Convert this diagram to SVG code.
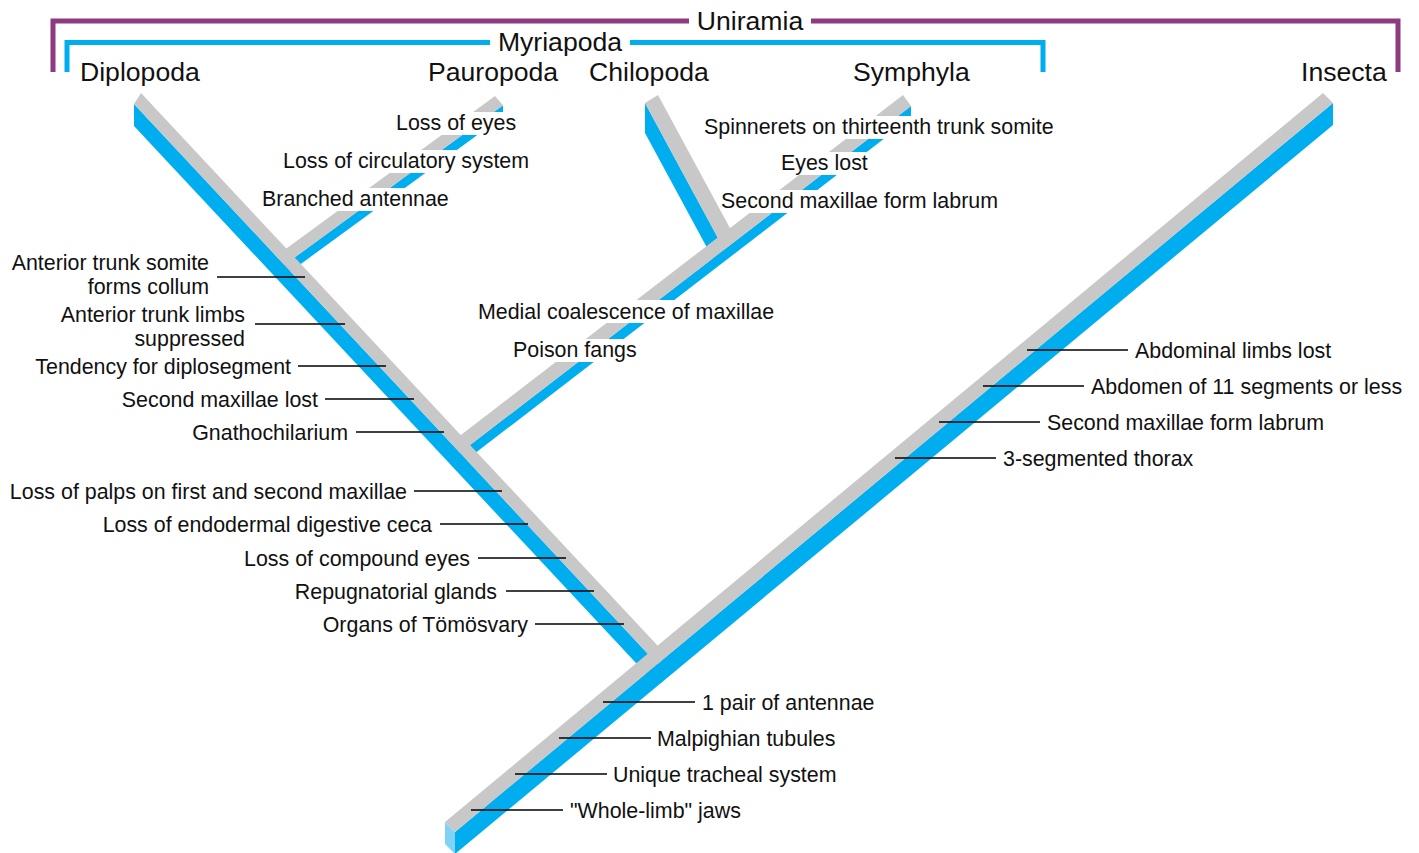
<svg xmlns="http://www.w3.org/2000/svg" width="1419" height="853" viewBox="0 0 1419 853">
  <style>
    .top{fill:#c8c8c8}
    .side{fill:#00aeef}
    .end{fill:#80d3f6}
    .tick{stroke:#000;stroke-width:1.6;fill:none}
    .knock{fill:#fff}
    text{font-family:"Liberation Sans",Arial,Helvetica,sans-serif;font-size:21.4px;fill:#111}
    .taxon{font-size:26.6px}
    .r{text-anchor:end}
    .uni{stroke:#8e3a7e;stroke-width:5;fill:none}
    .myr{stroke:#00aeef;stroke-width:5;fill:none}
  </style>

  <!-- group brackets -->
  <g id="bracket-uniramia">
    <polyline class="uni" points="53,72 53,21 689,21"/>
    <polyline class="uni" points="811,21 1398,21 1398,72"/>
    <text class="taxon" x="750" y="29.5" text-anchor="middle">Uniramia</text>
  </g>
  <g id="bracket-myriapoda">
    <polyline class="myr" points="67,72 67,42.5 490,42.5"/>
    <polyline class="myr" points="630,42.5 1043,42.5 1043,72"/>
    <text class="taxon" x="560" y="51" text-anchor="middle">Myriapoda</text>
  </g>

  <!-- tree: side faces first, then top faces -->
  <g id="connectors">
    <g id="sides">
      <polygon class="side" points="455,832 1333,103 1333,125 455,854"/>
      <polygon class="side" points="134,104 657.4,663.9 645.8,673.5 134,126"/>
      <polygon class="side" points="503,105.2 503,116.2 290.5,271.5 284.4,264.9"/>
      <polygon class="side" points="911,105.9 911,117.9 466.5,459.8 460,452.8"/>
      <polygon class="side" points="645,103 724.2,249.5 712.8,258.4 645,133"/>
      <polygon class="end" points="445,822 455,832 455,854 445,844"/>
    </g>
    <g id="tops">
      <polygon class="top" points="445,822 1323,93 1333,103 455,832"/>
      <polygon class="top" points="141,93 667.1,655.8 657.4,663.9 134,104"/>
      <polygon class="top" points="495,96 503,105.2 284.4,264.9 276.1,256"/>
      <polygon class="top" points="903,95 911,105.9 460,452.8 450.8,442.8"/>
      <polygon class="top" points="658,95 736.4,240.1 724.2,249.5 645,103"/>
    </g>
    <g id="ticks">
      <line class="tick" x1="217" y1="277" x2="305" y2="277"/>
      <line class="tick" x1="255" y1="324" x2="345" y2="324"/>
      <line class="tick" x1="298" y1="366" x2="386" y2="366"/>
      <line class="tick" x1="325" y1="399" x2="414" y2="399"/>
      <line class="tick" x1="356" y1="432" x2="444" y2="432"/>
      <line class="tick" x1="414" y1="491" x2="502" y2="491"/>
      <line class="tick" x1="440" y1="524" x2="528" y2="524"/>
      <line class="tick" x1="478" y1="558" x2="566" y2="558"/>
      <line class="tick" x1="506" y1="591" x2="594" y2="591"/>
      <line class="tick" x1="535" y1="624" x2="624" y2="624"/>
      <line class="tick" x1="1027" y1="350" x2="1128" y2="350"/>
      <line class="tick" x1="983" y1="386" x2="1084" y2="386"/>
      <line class="tick" x1="939" y1="422" x2="1040" y2="422"/>
      <line class="tick" x1="895" y1="458" x2="996" y2="458"/>
      <line class="tick" x1="603" y1="702" x2="695" y2="702"/>
      <line class="tick" x1="559" y1="738" x2="651" y2="738"/>
      <line class="tick" x1="515" y1="774" x2="607" y2="774"/>
      <line class="tick" x1="471" y1="810" x2="563" y2="810"/>
    </g>
  </g>

  <!-- terminal taxa -->
  <g id="taxon-diplopoda"><text class="taxon" x="80" y="81">Diplopoda</text></g>
  <g id="taxon-pauropoda"><text class="taxon" x="428" y="81">Pauropoda</text></g>
  <g id="taxon-chilopoda"><text class="taxon" x="589" y="81">Chilopoda</text></g>
  <g id="taxon-symphyla"><text class="taxon" x="853" y="81">Symphyla</text></g>
  <g id="taxon-insecta"><text class="taxon" x="1301" y="81">Insecta</text></g>

  <!-- characters along the Pauropoda branch -->
  <g id="c-loss-eyes"><rect class="knock" x="393" y="112" width="126" height="23"/><text x="396" y="129.5">Loss of eyes</text></g>
  <g id="c-loss-circ"><rect class="knock" x="280" y="150" width="250" height="23"/><text x="283" y="168">Loss of circulatory system</text></g>
  <g id="c-branched"><rect class="knock" x="259" y="188" width="191" height="23"/><text x="262" y="206">Branched antennae</text></g>

  <!-- characters along the Symphyla / Chilopoda branch -->
  <g id="c-spinnerets"><rect class="knock" x="701" y="116" width="353" height="23"/><text x="704" y="133.5">Spinnerets on thirteenth trunk somite</text></g>
  <g id="c-eyes-lost"><rect class="knock" x="778" y="152" width="92" height="23"/><text x="781" y="169.5">Eyes lost</text></g>
  <g id="c-sym-labrum"><rect class="knock" x="722" y="190" width="278" height="23"/><text x="721" y="208">Second maxillae form labrum</text></g>
  <g id="c-medial"><rect class="knock" x="475" y="300" width="300" height="23"/><text x="478" y="318.5">Medial coalescence of maxillae</text></g>
  <g id="c-poison"><rect class="knock" x="510" y="339" width="129" height="23"/><text x="513" y="357">Poison fangs</text></g>

  <!-- characters along the Diplopoda branch -->
  <g id="c-collum"><text class="r" x="209" y="269.5">Anterior trunk somite</text><text class="r" x="209" y="293.5">forms collum</text></g>
  <g id="c-limbs"><text class="r" x="245" y="321.5">Anterior trunk limbs</text><text class="r" x="245" y="345.5">suppressed</text></g>
  <g id="c-diplo"><text class="r" x="291" y="373.5">Tendency for diplosegment</text></g>
  <g id="c-max-lost"><text class="r" x="318" y="406.5">Second maxillae lost</text></g>
  <g id="c-gnatho"><text class="r" x="348" y="439.5">Gnathochilarium</text></g>
  <g id="c-palps"><text class="r" x="407" y="498.5">Loss of palps on first and second maxillae</text></g>
  <g id="c-ceca"><text class="r" x="432" y="531.5">Loss of endodermal digestive ceca</text></g>
  <g id="c-compound"><text class="r" x="470" y="565.5">Loss of compound eyes</text></g>
  <g id="c-repug"><text class="r" x="497" y="598.5">Repugnatorial glands</text></g>
  <g id="c-tomosvary"><text class="r" x="528" y="631.5">Organs of Tömösvary</text></g>

  <!-- characters along the Insecta line -->
  <g id="c-abd-limbs"><text x="1135" y="357.5">Abdominal limbs lost</text></g>
  <g id="c-abd-seg"><text x="1091" y="393.5">Abdomen of 11 segments or less</text></g>
  <g id="c-ins-labrum"><text x="1047" y="429.5">Second maxillae form labrum</text></g>
  <g id="c-thorax"><text x="1003" y="465.5">3-segmented thorax</text></g>

  <!-- characters on the stem -->
  <g id="c-antennae"><text x="702" y="709.5">1 pair of antennae</text></g>
  <g id="c-malpighian"><text x="657" y="745.5">Malpighian tubules</text></g>
  <g id="c-tracheal"><text x="613" y="781.5">Unique tracheal system</text></g>
  <g id="c-jaws"><text x="570" y="817.5">"Whole-limb" jaws</text></g>
</svg>
